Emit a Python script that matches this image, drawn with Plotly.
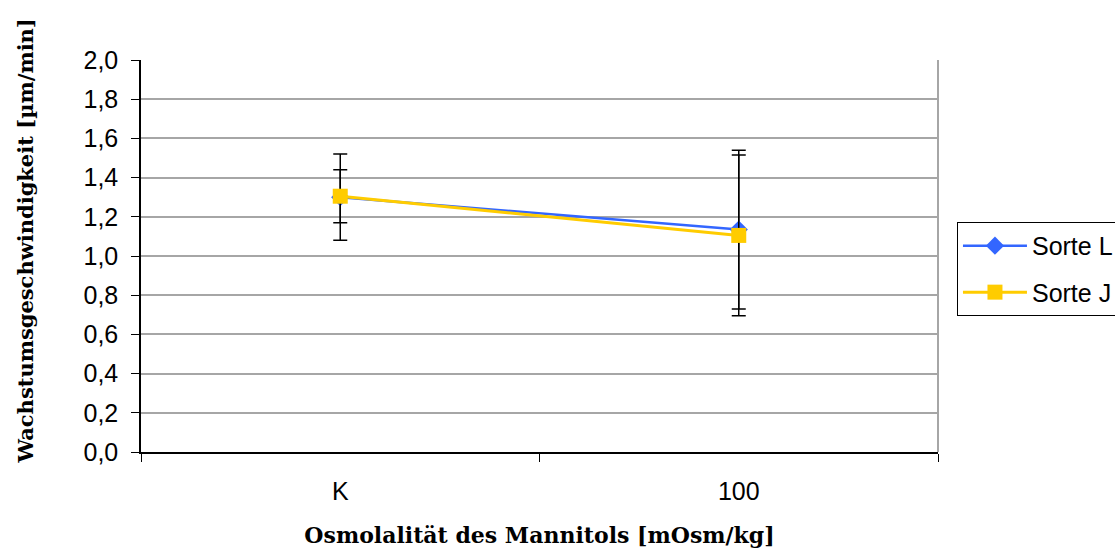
import plotly.graph_objects as go

# Categories on the x axis
categories = ["K", "100"]

# Mean growth rate (µm/min) per variety
sorte_l = [1.30, 1.135]
sorte_j = [1.305, 1.105]

# Standard deviations shown as error bars
sorte_l_err = [0.22, 0.405]
sorte_j_err = [0.135, 0.41]

y_ticks = [0.0, 0.2, 0.4, 0.6, 0.8, 1.0, 1.2, 1.4, 1.6, 1.8, 2.0]
y_tick_text = [f"{v:.1f}".replace(".", ",") for v in y_ticks]

BLUE = "#3366FF"
YELLOW = "#FFCC00"

fig = go.Figure()

fig.add_trace(go.Scatter(
    x=categories, y=sorte_l, name="Sorte L", mode="lines+markers",
    legendgroup="l",
    line=dict(color=BLUE, width=2.5),
    marker=dict(symbol="diamond", size=14, color=BLUE),
    error_y=dict(type="data", array=sorte_l_err, visible=True,
                 color="black", thickness=1.5, width=7),
))
fig.add_trace(go.Scatter(
    x=categories, y=sorte_j, name="Sorte J", mode="lines+markers",
    legendgroup="j",
    line=dict(color=YELLOW, width=3),
    marker=dict(symbol="square", size=15, color=YELLOW),
    error_y=dict(type="data", array=sorte_j_err, visible=True,
                 color="black", thickness=1.5, width=7),
))

title_font = dict(family="DejaVu Serif", size=22, color="black", weight="bold")
tick_font = dict(family="Liberation Sans, Arial", size=25, color="black")

fig.update_layout(
    width=1115, height=550,
    margin=dict(l=141, r=177, t=60, b=98, autoexpand=False),
    paper_bgcolor="white", plot_bgcolor="white",
    font=dict(family="Liberation Sans, Arial", size=24, color="black"),
    legend=dict(
        x=1.0238, xanchor="left", y=0.587, yanchor="top",
        bgcolor="white", bordercolor="black", borderwidth=1,
        font=dict(family="Liberation Sans, Arial", size=25, color="black"),
        itemwidth=64, tracegroupgap=11,
    ),
    xaxis=dict(
        type="category", range=[-0.5, 1.5], automargin=False,
        showgrid=False, zeroline=False,
        showline=True, linecolor="black", linewidth=1.5,
        ticks="outside", tickson="boundaries", ticklen=8,
        tickcolor="black", tickwidth=1,
        tickfont=tick_font, ticklabelstandoff=16,
        title=dict(text="Osmolalität des Mannitols [mOsm/kg]",
                   font=title_font, standoff=24),
    ),
    yaxis=dict(
        range=[0, 2.0], tickvals=y_ticks, ticktext=y_tick_text,
        automargin=False,
        showgrid=True, gridcolor="#a6a6a6", gridwidth=1.5,
        zeroline=False,
        showline=True, linecolor="black", linewidth=1.5,
        ticks="outside", ticklen=8, tickcolor="black", tickwidth=1,
        tickfont=tick_font, ticklabelstandoff=8,
    ),
    annotations=[dict(
        text="Wachstumsgeschwindigkeit [µm/min]",
        xref="paper", yref="paper", x=-0.1455, y=0.537,
        xanchor="center", yanchor="middle", textangle=-90,
        showarrow=False, font=dict(family="DejaVu Serif", size=21,
                                   color="black", weight="bold"),
    )],
    shapes=[dict(type="line", xref="paper", yref="paper",
                 x0=1, x1=1, y0=0, y1=1,
                 line=dict(color="#a6a6a6", width=2))],
)

fig.write_html("out.html")
